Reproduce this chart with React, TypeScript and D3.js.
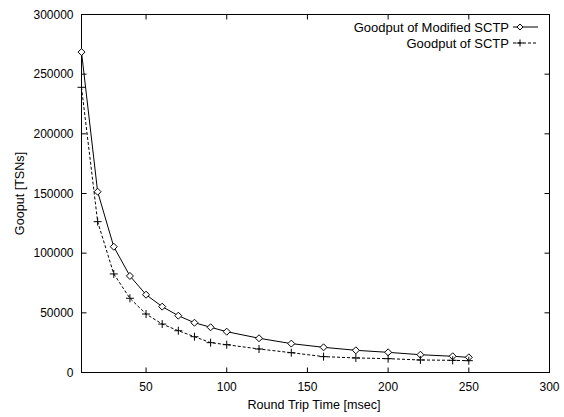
import React from 'react';
import * as d3 from 'd3';

const rtt = [10, 20, 30, 40, 50, 60, 70, 80, 90, 100, 120, 140, 160, 180, 200, 220, 240, 250];
const modifiedSctp = [268500, 151500, 105400, 80900, 65200, 55200, 47600, 41700, 37900, 34200, 28700, 24200, 21100, 18600, 16900, 14900, 13600, 12700];
const sctp = [239000, 126400, 82600, 62200, 49000, 40600, 35000, 30000, 25000, 23300, 19700, 16600, 13300, 12200, 11600, 10500, 10200, 9900];
const xTicks = [50, 100, 150, 200, 250, 300];
const yTicks = [0, 50000, 100000, 150000, 200000, 250000, 300000];
const seriesNames = ['Goodput of Modified SCTP', 'Goodput of SCTP'];

const W = 564;
const H = 417;
const left = 81.5;
const right = 549.5;
const top = 14.5;
const bottom = 372.5;
const font = 'Liberation Sans, Arial, Helvetica, sans-serif';

const App = () => {
  const x = d3.scaleLinear().domain([10, 300]).range([left, right]);
  const y = d3.scaleLinear().domain([0, 300000]).range([bottom, top]);

  const line = d3.line<number>()
    .x((_, i) => x(rtt[i]))
    .y(d => y(d));

  const diamond = (cx: number, cy: number, r = 3.5) =>
    `M${cx},${cy - r}L${cx + r},${cy}L${cx},${cy + r}L${cx - r},${cy}Z`;
  const plus = (cx: number, cy: number, r = 4) =>
    `M${cx - r},${cy}H${cx + r}M${cx},${cy - r}V${cy + r}`;

  const tickLen = 5;

  return (
    <svg width={W} height={H} style={{ position: 'absolute', left: 0, top: 0, background: '#fff' }}>
      <rect x={0} y={0} width={W} height={H} fill="#fff" />
      {/* frame */}
      <rect x={left} y={top} width={right - left} height={bottom - top} fill="none" stroke="#000" strokeWidth={1} />

      {/* y ticks */}
      {yTicks.map(t => (
        <g key={'y' + t}>
          <line x1={left} x2={left + tickLen} y1={y(t)} y2={y(t)} stroke="#000" />
          <line x1={right} x2={right - tickLen} y1={y(t)} y2={y(t)} stroke="#000" />
          <text x={left - 8} y={y(t)} dy="0.35em" textAnchor="end" fontFamily={font} fontSize={12}>{t}</text>
        </g>
      ))}

      {/* x ticks */}
      {xTicks.map(t => (
        <g key={'x' + t}>
          <line x1={x(t)} x2={x(t)} y1={bottom} y2={bottom - tickLen} stroke="#000" />
          <line x1={x(t)} x2={x(t)} y1={top} y2={top + tickLen} stroke="#000" />
          <text x={x(t)} y={bottom + 18} textAnchor="middle" fontFamily={font} fontSize={12}>{t}</text>
        </g>
      ))}

      {/* axis titles */}
      <text x={314} y={409} textAnchor="middle" fontFamily={font} fontSize={12.6}>Round Trip Time [msec]</text>
      <text transform={`translate(24,${(top + bottom) / 2}) rotate(-90)`} textAnchor="middle" fontFamily={font} fontSize={12.6}>Gooput [TSNs]</text>

      {/* series */}
      <path d={line(modifiedSctp) || ''} fill="none" stroke="#000" strokeWidth={1} />
      {modifiedSctp.map((v, i) => (
        <path key={'m' + i} d={diamond(x(rtt[i]), y(v))} fill="#fff" stroke="#000" strokeWidth={1} />
      ))}
      <path d={line(sctp) || ''} fill="none" stroke="#000" strokeWidth={1} strokeDasharray="3,2" />
      {sctp.map((v, i) => (
        <path key={'s' + i} d={plus(x(rtt[i]), y(v))} fill="none" stroke="#000" strokeWidth={1} />
      ))}

      {/* legend */}
      <g fontFamily={font} fontSize={13}>
        <text x={509} y={27} dy="0.35em" textAnchor="end">{seriesNames[0]}</text>
        <line x1={513} x2={538} y1={27} y2={27} stroke="#000" />
        <path d={diamond(520, 27, 3)} fill="#fff" stroke="#000" />
        <text x={509} y={43} dy="0.35em" textAnchor="end">{seriesNames[1]}</text>
        <line x1={513} x2={538} y1={43} y2={43} stroke="#000" strokeDasharray="3,2" />
        <path d={plus(520, 43, 3.5)} fill="none" stroke="#000" />
      </g>
    </svg>
  );
};

export default App;
